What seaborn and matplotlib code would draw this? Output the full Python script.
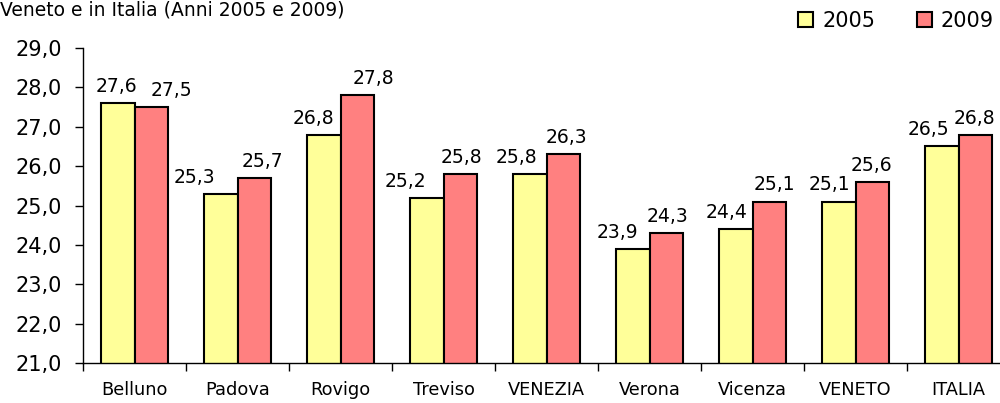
import matplotlib
matplotlib.use("Agg")
import matplotlib.pyplot as plt
import seaborn as sns
import pandas as pd
import numpy as np
from matplotlib.patches import Patch

categories = ["Belluno", "Padova", "Rovigo", "Treviso", "VENEZIA", "Verona", "Vicenza", "VENETO", "ITALIA"]
values_2005 = [27.6, 25.3, 26.8, 25.2, 25.8, 23.9, 24.4, 25.1, 26.5]
values_2009 = [27.5, 25.7, 27.8, 25.8, 26.3, 24.3, 25.1, 25.6, 26.8]
years = ["2005", "2009"]
colors = ["#FFFF99", "#FF8080"]
title = "Veneto e in Italia (Anni 2005 e 2009)"

# Excel-like horizontal nudges of the value labels (pixels), a styling detail
nudge_2005 = [-1, -26, -10, -21, -13, -15, -9, -9, -13]
nudge_2009 = [20, 8, 16, 1, 3, 1, 5, -1, -1]

df = pd.DataFrame({
    "cat": categories * 2,
    "year": [years[0]] * len(categories) + [years[1]] * len(categories),
    "val": values_2005 + values_2009,
})

sns.set_theme(style="white")
plt.rcParams["font.family"] = ["DejaVu Sans"]
plt.rcParams["text.color"] = "black"
plt.rcParams["xtick.color"] = "black"
plt.rcParams["ytick.color"] = "black"

fig = plt.figure(figsize=(10, 4.03), dpi=100)
ax = fig.add_axes([0.083, 0.099, 0.927, 0.782])

sns.barplot(data=df, x="cat", y="val", hue="year", palette=colors, order=categories,
            hue_order=years, width=0.65, edgecolor="black", linewidth=1.5, ax=ax,
            legend=False, errorbar=None, saturation=1)

ax.set_ylim(21, 29)
ax.set_xlim(-0.5, len(categories) - 0.5)
yt = np.arange(21, 29.01, 1)
ax.set_yticks(yt)
ax.set_yticklabels([f"{v:.1f}".replace(".", ",") for v in yt], fontsize=15)
ax.set_xticks(np.arange(len(categories)))
ax.set_xticklabels(categories, fontsize=12.8)
ax.tick_params(axis="x", which="major", length=0, pad=13)
ax.tick_params(axis="y", length=6, width=1, color="black", direction="out", left=True, pad=9)
ax.set_xticks(np.arange(-0.5, len(categories), 1), minor=True)
ax.tick_params(axis="x", which="minor", length=6, width=1, color="black", direction="out", bottom=True)
ax.set_xlabel("")
ax.set_ylabel("")
for s in ["top", "right"]:
    ax.spines[s].set_visible(False)
for s in ["left", "bottom"]:
    ax.spines[s].set_color("black")
    ax.spines[s].set_linewidth(1)

for cont, nudges in zip(ax.containers, [nudge_2005, nudge_2009]):
    for b, dx in zip(cont, nudges):
        h = b.get_height()
        ax.annotate(f"{h:.1f}".replace(".", ","), (b.get_x() + b.get_width() / 2, h),
                    xytext=(dx * 0.72, 8), textcoords="offset points", ha="center", va="baseline",
                    fontsize=13.5, annotation_clip=False)

handles = [Patch(facecolor=c, edgecolor="black", linewidth=1.5) for c in colors]
fig.legend(handles, years, loc="center right", bbox_to_anchor=(1.0, 1 - 21 / 403), ncol=2,
           frameon=False, fontsize=15, handlelength=0.72, handleheight=0.72,
           handletextpad=0.43, columnspacing=2.0, borderpad=0.1, borderaxespad=0.2)

fig.text(0.0, 1.0, title, fontsize=13.5, ha="left", va="top")

fig.savefig("out.png", dpi=100)
